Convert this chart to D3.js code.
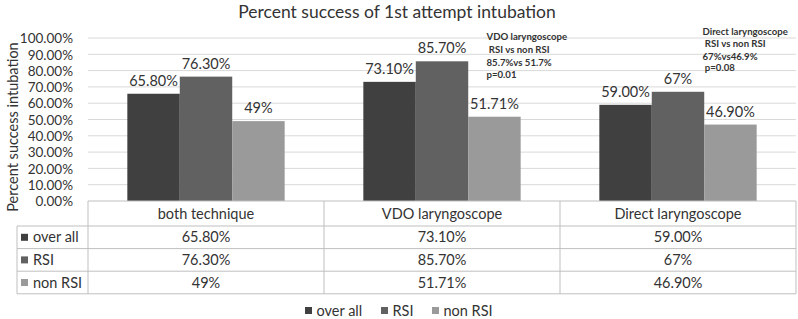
<!DOCTYPE html>
<html><head><meta charset="utf-8">
<script src="https://cdn.jsdelivr.net/npm/d3@7"></script>
<style>body{margin:0;background:#fff}svg{display:block}text{font-family:Lato,"Open Sans",sans-serif}</style>
</head><body>
<script>
const categories = ["both technique", "VDO laryngoscope", "Direct laryngoscope"];
const seriesNames = ["over all", "RSI", "non RSI"];
const overallValues = [65.8, 73.1, 59.0];
const rsiValues = [76.3, 85.7, 67];
const nonRsiValues = [49, 51.71, 46.9];
const overallLabels = ["65.80%", "73.10%", "59.00%"];
const rsiLabels = ["76.30%", "85.70%", "67%"];
const nonRsiLabels = ["49%", "51.71%", "46.90%"];
const yTicks = [0, 10, 20, 30, 40, 50, 60, 70, 80, 90, 100];
const annotations = [
  {cat: "VDO laryngoscope", lines: ["VDO laryngoscope", " RSI vs non RSI", "85.7%vs 51.7%", "p=0.01"]},
  {cat: "Direct laryngoscope", lines: ["Direct laryngoscope", " RSI vs non RSI", "67%vs46.9%", " p=0.08"]}
];
const colors = ["#404040", "#616161", "#9a9a9a"];

const series = [
  {name: seriesNames[0], values: overallValues, labels: overallLabels},
  {name: seriesNames[1], values: rsiValues, labels: rsiLabels},
  {name: seriesNames[2], values: nonRsiValues, labels: nonRsiLabels}
];

const W = 798, H = 319;
const svg = d3.select("body").append("svg").attr("width", W).attr("height", H);
const x = d3.scaleBand().domain(categories).range([88, 796]);
const bw = x.bandwidth();
const xs = d3.scaleBand().domain(seriesNames).range([bw / 6, bw * 5 / 6]);
const y = d3.scaleLinear().domain([0, 100]).range([201, 38]);
const textCol = "#333333";
const gridCol = "#d9d9d9";
const tableCol = "#bfbfbf";

// title
svg.append("text").attr("x", 397).attr("y", 18).attr("text-anchor", "middle")
  .attr("font-size", 17.5).attr("fill", textCol).text("Percent success of 1st attempt intubation");

// gridlines
svg.append("g").selectAll("line").data(yTicks.filter(d => d > 0)).join("line")
  .attr("x1", 88).attr("x2", 796).attr("y1", d => y(d)).attr("y2", d => y(d))
  .attr("stroke", gridCol).attr("stroke-width", 1);

// y axis
const yAxis = d3.axisLeft(y).tickValues(yTicks).tickFormat(d => d.toFixed(2) + "%").tickSize(0).tickPadding(15);
const ga = svg.append("g").attr("transform", "translate(88,0)").call(yAxis);
ga.select(".domain").remove();
ga.selectAll("text").attr("font-size", 13.5).attr("fill", textCol).attr("font-family", "Lato").attr("dy", "0.35em");

svg.append("text").attr("transform", "translate(17.5,127) rotate(-90)").attr("text-anchor", "middle")
  .attr("font-size", 14.5).attr("fill", textCol).text("Percent success intubation");

// bars
const gs = svg.append("g").selectAll("g").data(series).join("g").attr("fill", (d, i) => colors[i]);
gs.selectAll("rect").data(s => s.values.map((v, j) => ({s: s.name, c: categories[j], v}))).join("rect")
  .attr("x", d => x(d.c) + xs(d.s)).attr("width", xs.bandwidth())
  .attr("y", d => y(d.v)).attr("height", d => y(0) - y(d.v));

// data labels
svg.append("g").selectAll("g").data(series).join("g").selectAll("text")
  .data(s => s.values.map((v, j) => ({s: s.name, c: categories[j], v, l: s.labels[j]}))).join("text")
  .attr("x", d => x(d.c) + xs(d.s) + xs.bandwidth() / 2).attr("y", d => y(d.v) - 8)
  .attr("text-anchor", "middle").attr("font-size", 14.5).attr("fill", textCol).text(d => d.l);

// annotations
const annPos = [{x: 486.5, ys: [39.7, 53, 66.3, 78]}, {x: 702.5, ys: [35.3, 47.3, 60.3, 71]}];
annotations.forEach((a, k) => {
  const t = svg.append("text").attr("font-size", 9.6).attr("font-weight", 700).attr("fill", textCol);
  a.lines.forEach((ln, i) => {
    t.append("tspan").attr("x", annPos[k].x).attr("y", annPos[k].ys[i])
      .attr("xml:space", "preserve").style("white-space", "pre").text(ln);
  });
});

// table
const rowTop = 226, rowH = 22.6, nRows = 3;
const tb = svg.append("g").attr("stroke", tableCol).attr("stroke-width", 1).attr("fill", "none");
tb.append("line").attr("x1", 88).attr("x2", 796).attr("y1", 201).attr("y2", 201);
d3.range(nRows + 1).forEach(i => {
  tb.append("line").attr("x1", 17).attr("x2", 796).attr("y1", rowTop + i * rowH).attr("y2", rowTop + i * rowH);
});
const vx = categories.map(c => x(c)).concat([x.range()[1]]);
vx.forEach(v => tb.append("line").attr("x1", v).attr("x2", v).attr("y1", 201).attr("y2", rowTop + nRows * rowH));
tb.append("line").attr("x1", 17).attr("x2", 17).attr("y1", rowTop).attr("y2", rowTop + nRows * rowH);

// header texts
svg.append("g").selectAll("text").data(categories).join("text")
  .attr("x", d => x(d) + bw / 2).attr("y", 218.5).attr("text-anchor", "middle")
  .attr("font-size", 14.5).attr("fill", textCol).text(d => d);

// row contents
series.forEach((s, i) => {
  const cy = rowTop + i * rowH + rowH / 2;
  svg.append("rect").attr("x", 21).attr("y", cy - 3.5).attr("width", 7).attr("height", 7).attr("fill", colors[i]);
  svg.append("text").attr("x", 33).attr("y", cy + 5).attr("font-size", 14.5).attr("fill", textCol).text(s.name);
  svg.append("g").selectAll("text").data(s.labels).join("text")
    .attr("x", (d, j) => x(categories[j]) + bw / 2).attr("y", cy + 5).attr("text-anchor", "middle")
    .attr("font-size", 14.5).attr("fill", textCol).text(d => d);
});

// bottom legend
const legX = [305, 381, 432];
const lg = svg.append("g").selectAll("g").data(series).join("g")
  .attr("transform", (d, i) => `translate(${legX[i]},311)`);
lg.append("rect").attr("x", 0).attr("y", -4).attr("width", 7).attr("height", 7).attr("fill", (d, i) => colors[i]);
lg.append("text").attr("x", 11.5).attr("y", 4.5).attr("font-size", 14.5).attr("fill", textCol).text(d => d.name);
</script>
</body></html>
